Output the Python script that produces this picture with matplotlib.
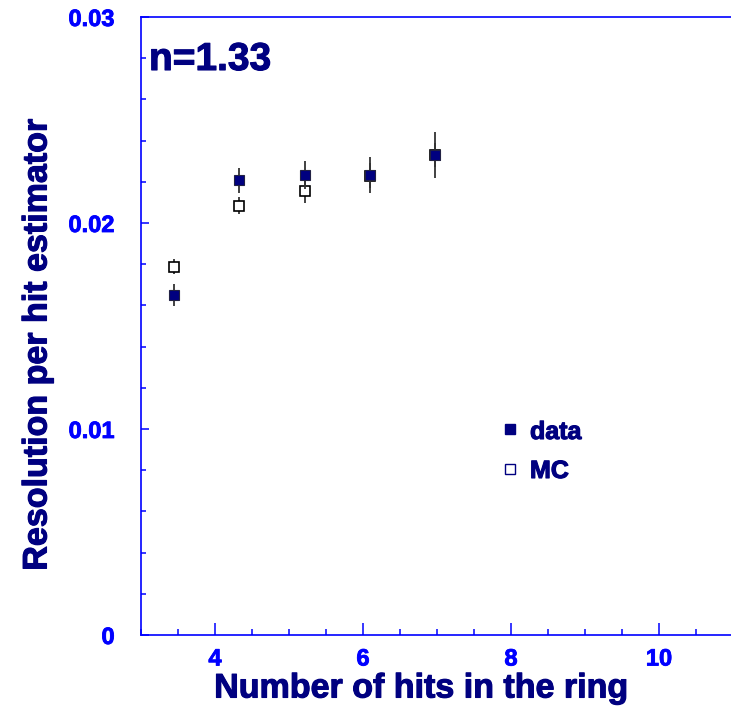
import numpy as np
import matplotlib.pyplot as plt
import matplotlib.patheffects as pe
from matplotlib.ticker import MultipleLocator

plt.rcParams['font.family'] = ['Liberation Sans', 'DejaVu Sans']
plt.rcParams['font.weight'] = 'bold'

# resolution per hit vs number of hits in the ring (n = 1.33)
nhits = [3.44, 4.33, 5.21, 6.10, 6.97]
res_data = [0.01651, 0.02208, 0.02232, 0.02232, 0.02329]
err_data = [0.00053, 0.00061, 0.00068, 0.00087, 0.00111]
res_mc = [0.01788, 0.02084, 0.02155, 0.02230, 0.02330]
err_mc = [0.00036, 0.00042, 0.00059, 0.00060, 0.00060]

navy = '#000080'
blue = '#0000ff'
heavy = [pe.withStroke(linewidth=0.8, foreground=navy)]
heavy_b = [pe.withStroke(linewidth=0.6, foreground=blue)]

fig = plt.figure(figsize=(7.31, 7.07), dpi=100)
ax = fig.add_axes([141/731, 72/707, 592/731, 618/707])

ax.errorbar(nhits, res_mc, yerr=err_mc, fmt='s', ms=7, mfc='white', mec='black',
            mew=1.2, ecolor='#333333', elinewidth=1.3, capsize=0, zorder=3)
ax.errorbar(nhits, res_data, yerr=err_data, fmt='s', ms=7, mfc=navy, mec='#222244',
            mew=0.8, ecolor='#333333', elinewidth=1.3, capsize=0, zorder=4)

ax.set_xlim(3, 11)
ax.set_ylim(0, 0.03)
ax.xaxis.set_major_locator(MultipleLocator(2))
ax.xaxis.set_minor_locator(MultipleLocator(0.5))
ax.yaxis.set_major_locator(MultipleLocator(0.01))
ax.yaxis.set_minor_locator(MultipleLocator(0.002))
ax.yaxis.set_major_formatter(plt.FuncFormatter(lambda v, p: '0' if v == 0 else f'{v:.2f}'))

for s in ax.spines.values():
    s.set_color(blue)
    s.set_linewidth(1.2)

ax.tick_params(axis='both', which='both', direction='in', color=blue, width=1.1,
               labelcolor=blue, labelsize=17)
ax.tick_params(axis='x', which='major', length=9, pad=9)
ax.tick_params(axis='x', which='minor', length=4.5)
ax.tick_params(axis='y', which='major', length=6, pad=19)
ax.tick_params(axis='y', which='minor', length=3.5)
for lab in ax.get_xticklabels() + ax.get_yticklabels():
    lab.set_fontweight('bold')
    lab.set_path_effects(heavy_b)

fig.text(149/731, 1 - 60/707, 'n=1.33', color=navy, fontsize=28, fontweight='bold',
         ha='left', va='center', path_effects=heavy)

# legend drawn by hand as in the original style
leg_x = 4 + (511 - 215.5)/74.25
ax.plot([leg_x], [(636 - 430)/20630], 's', ms=7, mfc=navy, mec=navy)
ax.plot([leg_x], [(636 - 470)/20630], 's', ms=7, mfc='white', mec=navy, mew=1)
fig.text(530/731, 1 - 432/707, 'data', color=navy, fontsize=18, fontweight='bold',
         va='center', path_effects=heavy)
fig.text(530/731, 1 - 471/707, 'MC', color=navy, fontsize=18, fontweight='bold',
         va='center', path_effects=heavy)

fig.text(421/731, 1 - 689/707, 'Number of hits in the ring', color=navy, fontsize=24.5,
         fontweight='bold', ha='center', va='center', path_effects=heavy)
fig.text(38/731, 1 - 345/707, 'Resolution per hit estimator', color=navy, fontsize=24.5,
         fontweight='bold', ha='center', va='center', rotation=90, path_effects=heavy)

fig.savefig('out.png', dpi=100)
